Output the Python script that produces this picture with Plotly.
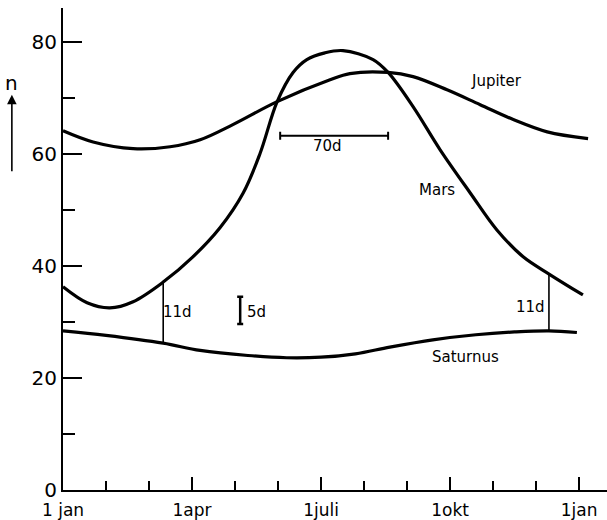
import plotly.graph_objects as go

# x in months since 1 jan, y = n
jup_x = [0.0, 0.70, 1.63, 2.49, 3.19, 3.95, 4.98, 6.21, 6.67, 7.56, 8.14, 8.93, 9.70, 10.47, 11.26, 12.21]
jup_y = [64.1, 62.1, 60.9, 61.25, 62.5, 65.2, 69.3, 73.2, 74.3, 74.5, 73.75, 71.4, 68.75, 66.1, 63.9, 62.7]

mars_x = [0.0, 0.56, 1.09, 1.63, 2.33, 3.02, 3.65, 4.19, 4.58, 4.98, 5.35, 5.67, 6.09,
          6.51, 7.21, 7.56, 8.14, 8.77, 9.47, 10.09, 10.70, 11.33, 12.09]
mars_y = [36.25, 33.4, 32.5, 33.6, 37.1, 41.6, 46.8, 53.0, 60.0, 69.3, 74.5, 76.8, 78.0,
          78.4, 76.8, 74.5, 68.4, 60.7, 53.0, 46.4, 41.6, 38.4, 34.8]

sat_x = [0.0, 1.0, 2.33, 3.19, 4.3, 5.2, 6.0, 6.8, 7.6, 8.6, 9.6, 10.5, 11.3, 11.95]
sat_y = [28.4, 27.6, 26.2, 24.9, 24.0, 23.6, 23.7, 24.3, 25.5, 26.8, 27.7, 28.2, 28.4, 28.1]

tick_vals = [0, 3, 6, 9, 12]
tick_text = ["1 jan", "1apr", "1juli", "1okt", "1jan"]
minor_months = [1, 2, 4, 5, 7, 8, 10, 11]
y_ticks = [0, 20, 40, 60, 80]
y_minor = [10, 30, 50, 70]

# 11d connecting lines (month, saturn value, mars value)
d11_x = [2.33, 11.3]
d11_lo = [26.2, 28.4]
d11_hi = [37.1, 38.5]

# 70d scale bar (start, end month, level) and 5d bar (month, low, high)
bar70 = [5.05, 7.56, 63.2]
bar5 = [4.12, 29.6, 34.5]

fig = go.Figure()
line = dict(color="black", width=3.2, shape="spline", smoothing=1.0)
fig.add_trace(go.Scatter(x=jup_x, y=jup_y, mode="lines", line=line))
fig.add_trace(go.Scatter(x=mars_x, y=mars_y, mode="lines", line=line))
fig.add_trace(go.Scatter(x=sat_x, y=sat_y, mode="lines", line=line))

for xv, lo, hi in zip(d11_x, d11_lo, d11_hi):
    fig.add_trace(go.Scatter(x=[xv, xv], y=[lo, hi], mode="lines",
                             line=dict(color="black", width=1.6)))

c70 = (bar70[0] + bar70[1]) / 2
fig.add_trace(go.Scatter(x=[c70], y=[bar70[2]], mode="lines",
                         error_x=dict(type="data", array=[(bar70[1] - bar70[0]) / 2],
                                      color="black", thickness=2, width=4)))
c5 = (bar5[1] + bar5[2]) / 2
fig.add_trace(go.Scatter(x=[bar5[0]], y=[c5], mode="lines",
                         error_y=dict(type="data", array=[(bar5[2] - bar5[1]) / 2],
                                      color="black", thickness=2.5, width=3)))

lab_font = dict(family="DejaVu Sans", size=15, color="black")
labels = [
    ("Jupiter", 10.09, 72.9),
    ("Mars", 8.7, 53.6),
    ("Saturnus", 9.37, 23.75),
    ("70d", 6.16, 61.4),
    ("11d", 2.67, 31.8),
    ("5d", 4.49, 31.8),
    ("11d", 10.88, 32.7),
]
for t, xv, yv in labels:
    fig.add_annotation(x=xv, y=yv, text=t, showarrow=False, font=lab_font)

# n arrow
fig.add_annotation(xref="paper", yref="paper", x=-0.094, y=0.82, text="",
                   showarrow=True, ax=0, ay=78, arrowhead=2, arrowsize=1.2,
                   arrowwidth=1.6, arrowcolor="black")
fig.add_annotation(xref="paper", yref="paper", x=-0.094, y=0.845, text="n",
                   xanchor="center", yanchor="middle",
                   showarrow=False, font=dict(family="DejaVu Sans", size=20, color="black"))

fig.update_layout(
    width=607, height=520,
    margin=dict(l=63, r=0, t=8, b=30),
    paper_bgcolor="white", plot_bgcolor="white",
    showlegend=False,
    xaxis=dict(range=[0, 12.65], showgrid=False, zeroline=False,
               showline=True, linecolor="black", linewidth=2,
               tickmode="array", tickvals=tick_vals, ticktext=tick_text,
               ticks="inside", ticklen=13, tickwidth=2, tickcolor="black",
               ticklabelstandoff=4,
               tickfont=dict(family="DejaVu Sans", size=17, color="black"),
               minor=dict(tickvals=minor_months, ticks="inside", ticklen=9,
                          tickwidth=2, tickcolor="black", showgrid=False)),
    yaxis=dict(range=[0, 86], showgrid=False, zeroline=False,
               showline=True, linecolor="black", linewidth=2,
               tickmode="array", tickvals=y_ticks,
               ticks="inside", ticklen=19, tickwidth=2, tickcolor="black",
               tickfont=dict(family="DejaVu Sans", size=20, color="black"),
               minor=dict(tickvals=y_minor, ticks="inside", ticklen=12,
                          tickwidth=2, tickcolor="black", showgrid=False)),
)

fig.write_html("out.html", config={"displayModeBar": False},
               post_script="document.body.style.margin='0';")
